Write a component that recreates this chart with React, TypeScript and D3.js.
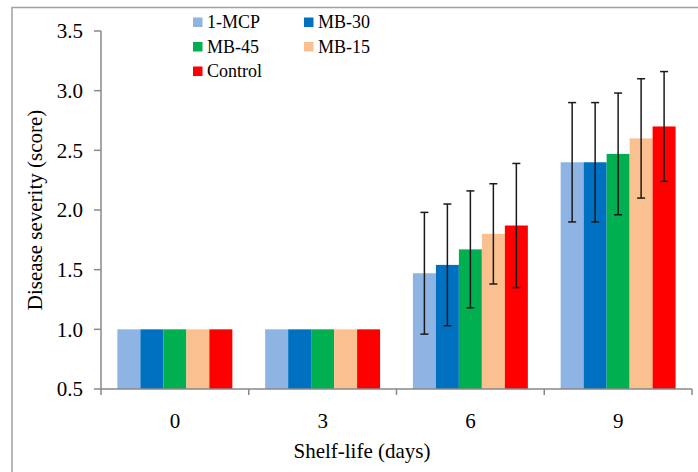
import React from "react";
import * as d3 from "d3";

const categories = ["0", "3", "6", "9"];
const seriesNames = ["1-MCP", "MB-30", "MB-45", "MB-15", "Control"];
const seriesColors = ["#8EB4E3", "#0070C0", "#00B050", "#FAC090", "#FF0000"];
const mcp = [1.0, 1.0, 1.47, 2.4];
const mb30 = [1.0, 1.0, 1.54, 2.4];
const mb45 = [1.0, 1.0, 1.67, 2.47];
const mb15 = [1.0, 1.0, 1.8, 2.6];
const control = [1.0, 1.0, 1.87, 2.7];
const mcpErr = [0, 0, 0.51, 0.5];
const mb30Err = [0, 0, 0.51, 0.5];
const mb45Err = [0, 0, 0.49, 0.51];
const mb15Err = [0, 0, 0.42, 0.5];
const controlErr = [0, 0, 0.52, 0.46];
const yTicks = [0.5, 1.0, 1.5, 2.0, 2.5, 3.0, 3.5];

const seriesValues = [mcp, mb30, mb45, mb15, control];
const seriesErrors = [mcpErr, mb30Err, mb45Err, mb15Err, controlErr];

const W = 698;
const H = 472;
const left = 101;
const right = 692;
const top = 31;
const bottom = 389;
const font = "'Liberation Serif', 'Times New Roman', serif";

export default function App() {
  const y = d3.scaleLinear().domain([0.5, 3.5]).range([bottom, top]);
  const x0 = d3.scaleBand().domain(categories).range([left, right]).padding(0);
  const bw = x0.bandwidth();
  const x1 = d3
    .scaleBand()
    .domain(seriesNames)
    .range([bw * 0.111, bw * 0.889])
    .padding(0);
  const barW = x1.bandwidth();
  const boundaries = [...categories.map((c) => x0(c) as number), right];

  return (
    <svg
      width={W}
      height={H}
      style={{ position: "absolute", left: 0, top: 0, background: "#fff" }}
      fontFamily={font}
    >
      <rect x={12} y={7.5} width={W} height={H} fill="none" stroke="#a0a0a0" strokeWidth={1.5} />
      {/* bars */}
      {seriesNames.map((s, si) =>
        categories.map((c, ci) => (
          <rect
            key={s + c}
            x={(x0(c) as number) + (x1(s) as number)}
            y={y(seriesValues[si][ci])}
            width={barW}
            height={bottom - y(seriesValues[si][ci])}
            fill={seriesColors[si]}
          />
        ))
      )}
      {/* error bars */}
      {seriesNames.map((s, si) =>
        categories.map((c, ci) => {
          const e = seriesErrors[si][ci];
          if (!e) return null;
          const cx = (x0(c) as number) + (x1(s) as number) + barW / 2;
          const v = seriesValues[si][ci];
          const y1 = y(v + e);
          const y2 = y(v - e);
          return (
            <g key={"e" + s + c} stroke="#1a1a1a" strokeWidth={1.5}>
              <line x1={cx} x2={cx} y1={y1} y2={y2} />
              <line x1={cx - 4} x2={cx + 4} y1={y1} y2={y1} />
              <line x1={cx - 4} x2={cx + 4} y1={y2} y2={y2} />
            </g>
          );
        })
      )}
      {/* y axis */}
      <line x1={left} x2={left} y1={top} y2={bottom} stroke="#888" strokeWidth={1.5} />
      {yTicks.map((t) => (
        <g key={"yt" + t}>
          <line x1={left - 7} x2={left} y1={y(t)} y2={y(t)} stroke="#888" strokeWidth={1.5} />
          <text x={83} y={y(t)} dy="0.35em" textAnchor="end" fontSize={21} fill="#000">
            {d3.format(".1f")(t)}
          </text>
        </g>
      ))}
      {/* x axis */}
      <line x1={left} x2={right} y1={bottom} y2={bottom} stroke="#888" strokeWidth={1.5} />
      {boundaries.map((b, i) => (
        <line key={"xt" + i} x1={b} x2={b} y1={bottom} y2={bottom + 6} stroke="#888" strokeWidth={1.5} />
      ))}
      {categories.map((c) => (
        <text
          key={"xl" + c}
          x={(x0(c) as number) + bw / 2}
          y={428}
          textAnchor="middle"
          fontSize={21}
          fill="#000"
        >
          {c}
        </text>
      ))}
      <text x={362} y={458} textAnchor="middle" fontSize={21} fill="#000">
        Shelf-life (days)
      </text>
      <text
        transform={`translate(42, ${(top + bottom) / 2}) rotate(-90)`}
        textAnchor="middle"
        fontSize={21}
        fill="#000"
      >
        Disease severity (score)
      </text>
      {/* legend */}
      {seriesNames.map((s, i) => {
        const col = i % 2;
        const row = Math.floor(i / 2);
        const lx = col === 0 ? 193 : 304;
        const ly = 22 + row * 24.5;
        return (
          <g key={"lg" + s}>
            <rect x={lx} y={ly - 4.5} width={9.5} height={9.5} fill={seriesColors[i]} />
            <text x={lx + 14} y={ly} dy="0.35em" fontSize={18} fill="#000">
              {s}
            </text>
          </g>
        );
      })}
    </svg>
  );
}
